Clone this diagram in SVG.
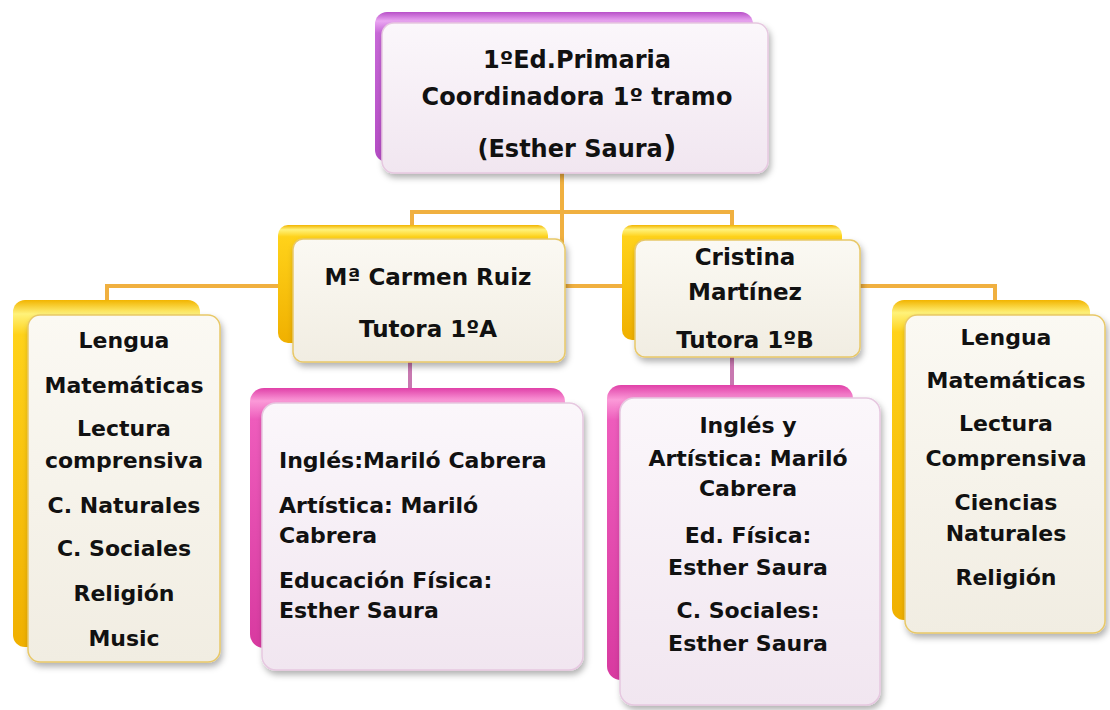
<svg xmlns="http://www.w3.org/2000/svg" width="1110" height="710" viewBox="0 0 1110 710">
<defs>
<linearGradient id="gYel" x1="0" y1="0" x2="0" y2="1">
<stop offset="0" stop-color="#f2b400"/><stop offset="0.04" stop-color="#fff27a"/><stop offset="0.1" stop-color="#ffd21a"/><stop offset="1" stop-color="#f0b000"/>
</linearGradient>
<linearGradient id="gPur" x1="0" y1="0" x2="0" y2="1">
<stop offset="0" stop-color="#b850c8"/><stop offset="0.06" stop-color="#eaa6f2"/><stop offset="0.14" stop-color="#c868d8"/><stop offset="1" stop-color="#b44cc4"/>
</linearGradient>
<linearGradient id="gPink" x1="0" y1="0" x2="0" y2="1">
<stop offset="0" stop-color="#e040a8"/><stop offset="0.05" stop-color="#fb9ad8"/><stop offset="0.12" stop-color="#ee5cbc"/><stop offset="1" stop-color="#d83aa0"/>
</linearGradient>
<linearGradient id="gFrontY" x1="0" y1="0" x2="0" y2="1">
<stop offset="0" stop-color="#fbf9f3"/><stop offset="1" stop-color="#f1ede2"/>
</linearGradient>
<linearGradient id="gFrontP" x1="0" y1="0" x2="0" y2="1">
<stop offset="0" stop-color="#fbf7fb"/><stop offset="1" stop-color="#f1e6f0"/>
</linearGradient>
<filter id="sh" x="-10%" y="-10%" width="125%" height="125%">
<feDropShadow dx="2" dy="4" stdDeviation="3" flood-color="#000" flood-opacity="0.3"/>
</filter>
</defs>
<style>
.t{font-family:"Comic Sans MS","DejaVu Sans",sans-serif;font-weight:bold;fill:#111;text-anchor:middle}
.s{font-size:22px}
.m{font-size:23px}
.l{font-size:24px}
.lf{text-anchor:start}
.fy{fill:url(#gFrontY);stroke:#e8c868;stroke-width:1.5;filter:url(#sh)}
.fp{fill:url(#gFrontP);stroke:#e6c8e0;stroke-width:1.5;filter:url(#sh)}
.conn{fill:none;stroke:#f0b040;stroke-width:4}
.connp{fill:none;stroke:#c878b0;stroke-width:4}
</style>
<rect width="1110" height="710" fill="#fff"/>
<g id="connectors">
<path class="conn" d="M562,173 V286"/>
<path class="conn" d="M412,225 V212 H732 V227"/>
<path class="conn" d="M107,302 V286 H995 V300"/>
<path class="connp" d="M410,362 V388"/>
<path class="connp" d="M732,357 V385"/>
</g>
<g id="top">
<rect x="375" y="12" width="378" height="150" rx="12" fill="url(#gPur)"/>
<rect x="382" y="23" width="386" height="150" rx="12" class="fp"/>
<text class="t l" x="577" y="68">1ºEd.Primaria</text>
<text class="t l" x="577" y="105">Coordinadora 1º tramo</text>
<text class="t l" x="577" y="157">(Esther Saura<tspan font-size="30">)</tspan></text>
</g>
<g id="tutor-a">
<rect x="278" y="225" width="270" height="118" rx="10" fill="url(#gYel)"/>
<rect x="293" y="239" width="272" height="123" rx="10" class="fy"/>
<text class="t m" x="428" y="285">Mª Carmen Ruiz</text>
<text class="t m" x="428" y="337">Tutora 1ºA</text>
</g>
<g id="tutor-b">
<rect x="622" y="225" width="220" height="115" rx="10" fill="url(#gYel)"/>
<rect x="635" y="240" width="225" height="117" rx="10" class="fy"/>
<text class="t m" x="745" y="265">Cristina</text>
<text class="t m" x="745" y="300">Martínez</text>
<text class="t m" x="745" y="348">Tutora 1ºB</text>
</g>
<g id="subjects-a">
<rect x="13" y="300" width="187" height="347" rx="12" fill="url(#gYel)"/>
<rect x="28" y="315" width="192" height="347" rx="12" class="fy"/>
<text class="t s" x="124" y="348">Lengua</text>
<text class="t s" x="124" y="393">Matemáticas</text>
<text class="t s" x="124" y="436">Lectura</text>
<text class="t s" x="124" y="468">comprensiva</text>
<text class="t s" x="124" y="513">C. Naturales</text>
<text class="t s" x="124" y="556">C. Sociales</text>
<text class="t s" x="124" y="601">Religión</text>
<text class="t s" x="124" y="646">Music</text>
</g>
<g id="subjects-b">
<rect x="892" y="300" width="198" height="320" rx="12" fill="url(#gYel)"/>
<rect x="905" y="315" width="200" height="318" rx="12" class="fy"/>
<text class="t s" x="1006" y="345">Lengua</text>
<text class="t s" x="1006" y="388">Matemáticas</text>
<text class="t s" x="1006" y="431">Lectura</text>
<text class="t s" x="1006" y="466">Comprensiva</text>
<text class="t s" x="1006" y="510">Ciencias</text>
<text class="t s" x="1006" y="541">Naturales</text>
<text class="t s" x="1006" y="585">Religión</text>
</g>
<g id="teachers-a">
<rect x="250" y="388" width="315" height="260" rx="14" fill="url(#gPink)"/>
<rect x="262" y="403" width="321" height="267" rx="14" class="fp"/>
<text class="t s lf" x="279" y="468">Inglés:Mariló Cabrera</text>
<text class="t s lf" x="279" y="513">Artística: Mariló</text>
<text class="t s lf" x="279" y="543">Cabrera</text>
<text class="t s lf" x="279" y="588">Educación Física:</text>
<text class="t s lf" x="279" y="618">Esther Saura</text>
</g>
<g id="teachers-b">
<rect x="607" y="385" width="246" height="295" rx="14" fill="url(#gPink)"/>
<rect x="620" y="398" width="260" height="307" rx="14" class="fp"/>
<text class="t s" x="748" y="433">Inglés y</text>
<text class="t s" x="748" y="466">Artística: Mariló</text>
<text class="t s" x="748" y="496">Cabrera</text>
<text class="t s" x="748" y="543">Ed. Física:</text>
<text class="t s" x="748" y="575">Esther Saura</text>
<text class="t s" x="748" y="618">C. Sociales:</text>
<text class="t s" x="748" y="651">Esther Saura</text>
</g>
</svg>
